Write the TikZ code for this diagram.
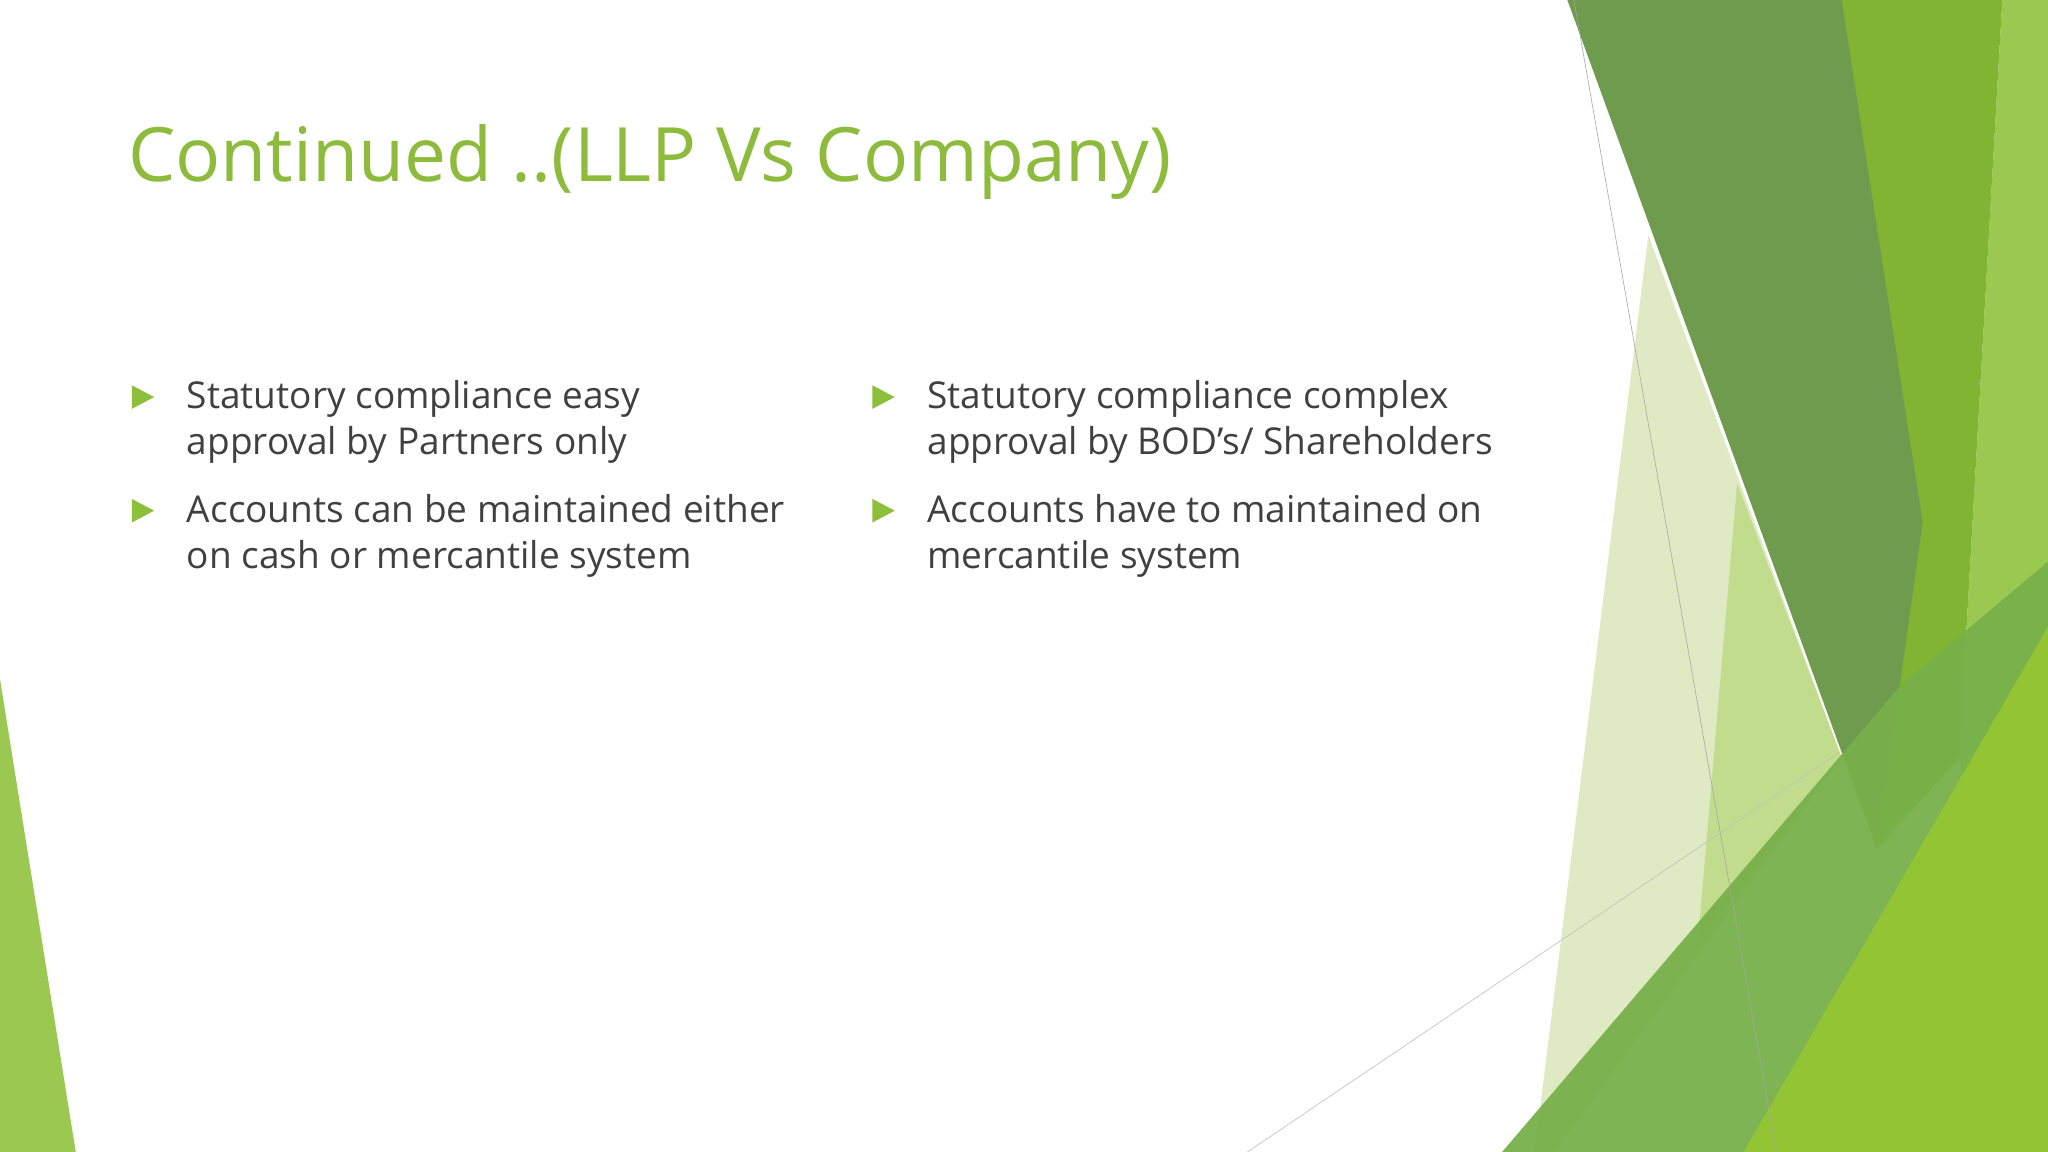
\documentclass[tikz,border=0pt]{standalone}
\usepackage{fontspec}
\setmainfont{Open Sans}
\begin{document}
\begin{tikzpicture}[x=1.306pt,y=-1.306pt,
  bul/.style={anchor=north west,align=left,text=black!75,font=\fontsize{37}{46}\selectfont,inner sep=0pt}]
\useasboundingbox (0,0) rectangle (1568,882);
\fill[white] (0,0) rectangle (1568,882);
\definecolor{dk}{HTML}{6E9B4D}\definecolor{br}{HTML}{80B432}\definecolor{lt}{HTML}{9BC850}
\definecolor{pale}{HTML}{DFEAC4}\definecolor{md}{HTML}{C2DC8E}\definecolor{bt}{HTML}{78B04A}
\definecolor{gg}{HTML}{93C433}\definecolor{ttl}{HTML}{8DBB3C}\definecolor{bu}{HTML}{8DC03A}
\fill[pale] (1262,180) -- (1410,580) -- (1190,882) -- (1175,882) -- cycle;
\fill[md] (1330,370) -- (1410,580) -- (1300,720) -- cycle;
\fill[lt] (1533,0) -- (1568,0) -- (1568,882) -- (1500,580) -- cycle;
\fill[br] (1408,0) -- (1533,0) -- (1500,580) -- (1437,650) -- cycle;
\fill[dk] (1200,0) -- (1410,0) -- (1472,400) -- (1437,650) -- cycle;
\fill[bt,opacity=0.95] (1150,882) -- (1455,525) -- (1568,430) -- (1568,882) -- cycle;
\fill[gg] (1335,882) -- (1568,480) -- (1568,882) -- cycle;
\fill[lt] (0,520) -- (0,882) -- (58,882) -- cycle;
\draw[gray!70,line width=0.6pt] (1205,0) -- (1360,882);
\draw[gray!50,line width=0.6pt] (955,882) -- (1410,575);
\node[anchor=west,text=ttl,font=\fontsize{75}{85}\selectfont,inner sep=0pt] (title) at (98,124) {Continued ..(LLP Vs Company)};
\foreach \n/\x/\y/\t in {a/143/291/{Statutory compliance easy\\approval by Partners only},
 b/143/378/{Accounts can be maintained either\\on cash or mercantile system},
 c/710/291/{Statutory compliance complex\\approval by BOD’s/ Shareholders},
 d/710/378/{Accounts have to maintained on\\mercantile system}}{
  \node[bul] (\n) at (\x,\y) {\t};
  \fill[bu] (\x-42,\y+4) -- (\x-25,\y+13) -- (\x-42,\y+22) -- cycle;
}
\end{tikzpicture}
\end{document}
